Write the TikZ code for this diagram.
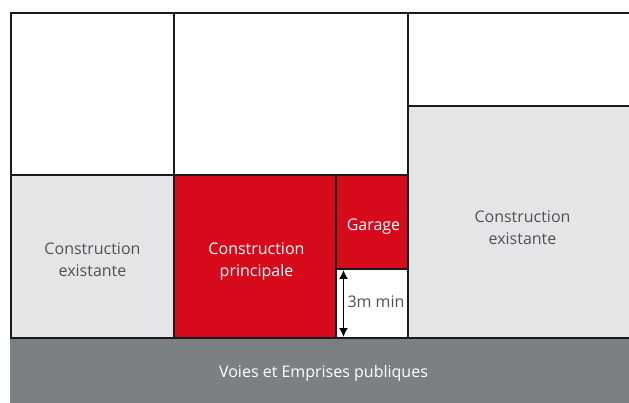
\documentclass[tikz,border=0pt]{standalone}
\usepackage{fontspec}
\setmainfont{Open Sans}
\usetikzlibrary{arrows.meta}
\definecolor{roadgrey}{HTML}{7B8082}
\definecolor{existgrey}{HTML}{E4E5E7}
\definecolor{mainred}{HTML}{D70A1C}
\definecolor{inkblack}{HTML}{1A1A1A}
\definecolor{darktext}{HTML}{4F5254}
\tikzset{
  plot/.style={draw=inkblack,line width=2pt,fill=white},
  existing/.style={plot,fill=existgrey},
  redbox/.style={plot,fill=mainred},
  darklabel/.style={text=darktext,font=\fontsize{16}{22}\selectfont,align=center},
  lightlabel/.style={text=white,font=\fontsize{16}{22}\selectfont,align=center},
  dimarrow/.style={draw=black,line width=1.5pt,{Latex[length=9pt,width=9pt]}-{Latex[length=9pt,width=9pt]}}
}
\begin{document}
\begin{tikzpicture}[x=1pt,y=-1pt]
\useasboundingbox (0,0) rectangle (629,403);
\fill[white] (0,0) rectangle (629,403);
% back plots
\draw[plot] (11,13.5) rectangle (173.5,175.5);
\draw[plot] (173.5,13.5) rectangle (408,175.5);
\draw[plot] (408,13.5) -- (629,13.5);
\draw[plot] (408,13.5) -- (408,106);
% buildings
\draw[existing] (11,175.5) rectangle (173.5,338);
\draw[existing] (629,106) -- (408,106) -- (408,338) -- (629,338);
\draw[redbox] (173.5,175.5) rectangle (336,338);
\draw[redbox] (336,175.5) rectangle (408,269);
\draw[plot] (336,269) rectangle (408,338);
% road
\fill[roadgrey] (10,338.5) rectangle (629,403);
\draw[inkblack,line width=2pt] (10,338) -- (629,338);
% labels
\node[darklabel] (existA) at (92.5,260) {Construction\\existante};
\node[darklabel] (existB) at (522.5,228) {Construction\\existante};
\node[lightlabel] (main) at (256.5,262) {Construction\\principale};
\node[lightlabel] (garage) at (373.5,227) {Garage};
\node[darklabel,anchor=center] (minlabel) at (376,302) {3m min};
\node[lightlabel] (road) at (323.5,373) {Voies et Emprises publiques};
\coordinate (dimtop) at (343.5,270);
\coordinate (dimbot) at (343.5,337);
\draw[dimarrow] (dimtop) -- (dimbot);
\end{tikzpicture}
\end{document}
